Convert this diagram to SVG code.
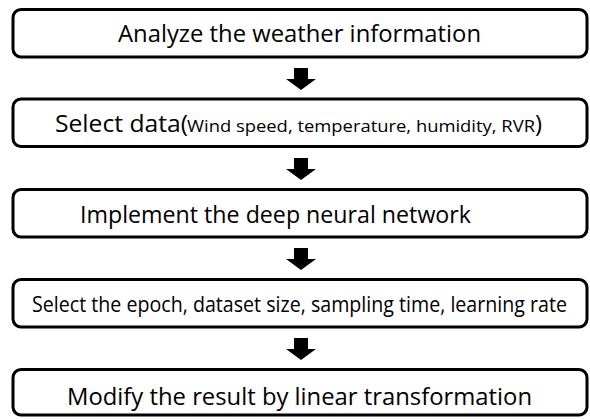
<svg xmlns="http://www.w3.org/2000/svg" width="590" height="419" viewBox="0 0 590 419">
<style>
.box{fill:#fff;stroke:#000;stroke-width:3}
.t{font-family:"Open Sans","Noto Sans","DejaVu Sans",sans-serif;fill:#000}
.arr{fill:#000}
</style>
<rect width="590" height="419" fill="#fff"/>
<g id="node1"><rect class="box" x="13" y="9.5" width="574" height="47.5" rx="8"/>
<text class="t" x="118" y="42" font-size="24" textLength="363" lengthAdjust="spacingAndGlyphs">Analyze the weather information</text></g>
<g id="node2"><rect class="box" x="13" y="99" width="574" height="47.5" rx="8"/>
<text class="t" y="131.5"><tspan x="55" font-size="24" textLength="133" lengthAdjust="spacingAndGlyphs">Select data(</tspan><tspan x="187" font-size="17" textLength="348" lengthAdjust="spacingAndGlyphs">Wind speed, temperature, humidity, RVR</tspan><tspan x="535" font-size="24" textLength="7" lengthAdjust="spacingAndGlyphs">)</tspan></text></g>
<g id="node3"><rect class="box" x="13" y="189.5" width="574" height="47.5" rx="8"/>
<text class="t" x="80" y="223" font-size="24" textLength="391" lengthAdjust="spacingAndGlyphs">Implement the deep neural network</text></g>
<g id="node4"><rect class="box" x="13" y="279.5" width="574" height="47.5" rx="8"/>
<text class="t" transform="scale(0.78,1)" x="41" y="312.5" font-size="22" textLength="686" lengthAdjust="spacingAndGlyphs">Select the epoch, dataset size, sampling time, learning rate</text></g>
<g id="node5"><rect class="box" x="13" y="369.5" width="574" height="45.5" rx="8"/>
<text class="t" x="67" y="405" font-size="24" textLength="465" lengthAdjust="spacingAndGlyphs">Modify the result by linear transformation</text></g>
<g id="connectors">
<polygon class="arr" points="294,68 308,68 308,79 316,79 301,90 286,79 294,79"/>
<polygon class="arr" points="294,158 308,158 308,169 316,169 301,180 286,169 294,169"/>
<polygon class="arr" points="294,248 308,248 308,259 316,259 301,270 286,259 294,259"/>
<polygon class="arr" points="294,338 308,338 308,349 316,349 301,360 286,349 294,349"/>
</g>
</svg>
